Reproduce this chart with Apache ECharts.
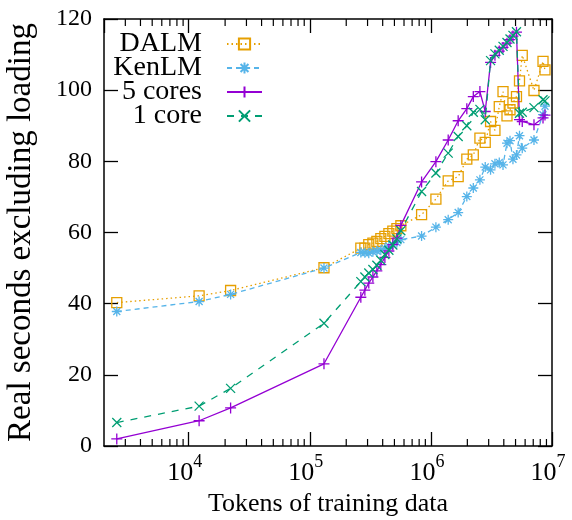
<!DOCTYPE html>
<html><head><meta charset="utf-8">
<script src="https://cdn.jsdelivr.net/npm/echarts@6/dist/echarts.min.js"></script>
<style>html,body{margin:0;padding:0;background:#fff}#c{width:572px;height:520px}</style>
</head><body><div id="c"></div>
<script>
const tokens = [2550, 12200, 22200, 131000, 264000, 285000, 307000, 332000, 358000, 386000, 417000, 450000, 485000, 524000, 565000, 838000, 1100000, 1390000, 1680000, 1980000, 2240000, 2540000, 2810000, 3110000, 3380000, 3670000, 3940000, 4250000, 4500000, 4760000, 5090000, 5390000, 5680000, 7100000, 8430000, 8750000];
const dalm = [40.3, 42.2, 43.7, 50.1, 55.6, 55.6, 56.6, 57.0, 57.5, 58.3, 58.9, 59.7, 60.4, 61.1, 61.9, 65.0, 69.4, 74.5, 75.7, 80.6, 81.8, 86.5, 85.3, 91.2, 88.7, 95.4, 99.6, 92.8, 94.5, 96.4, 98.2, 102.6, 109.8, 99.9, 108.1, 105.7];
const kenlm = [37.8, 40.6, 42.6, 50.0, 54.4, 54.3, 54.2, 54.6, 54.8, 55.0, 55.6, 56.2, 56.6, 57.2, 58.0, 59.0, 61.5, 63.6, 65.6, 70.1, 72.5, 74.8, 78.4, 77.6, 79.3, 79.7, 79.0, 85.1, 85.8, 80.6, 81.8, 87.2, 83.7, 86.0, 93.1, 95.5];
const cores5 = [2.0, 7.1, 10.7, 23.1, 41.8, 43.8, 45.8, 47.5, 49.2, 51.0, 53.0, 54.8, 56.6, 58.4, 62.0, 74.2, 79.9, 86.0, 91.4, 94.8, 98.2, 99.6, 94.0, 107.8, 109.8, 111.0, 112.0, 113.2, 114.2, 115.2, 116.3, 91.7, 91.2, 90.3, 92.2, 93.0];
const core1 = [6.6, 11.2, 16.2, 34.5, 46.2, 47.5, 48.6, 49.6, 50.8, 52.2, 53.8, 55.0, 56.5, 58.2, 60.5, 71.5, 76.7, 82.3, 87.0, 90.0, 93.8, 94.6, 91.7, 108.3, 110.2, 111.2, 112.3, 113.4, 114.4, 115.4, 116.4, 93.5, 93.8, 95.1, 97.3, 97.0];
const seriesNames = ['DALM', 'KenLM', '5 cores', '1 core'];
const yTicks = [0, 20, 40, 60, 80, 100, 120];
const minorTicks = [3e3,4e3,5e3,6e3,7e3,8e3,9e3, 2e4,3e4,4e4,5e4,6e4,7e4,8e4,9e4, 2e5,3e5,4e5,5e5,6e5,7e5,8e5,9e5, 2e6,3e6,4e6,5e6,6e6,7e6,8e6,9e6];

const FONT = 'Liberation Serif';
const colors = ['#E69F00', '#56B4E9', '#9400D3', '#009E73'];
const symbols = [
  'path://M0,0L10,0L10,10L0,10Z',
  'path://M5,0L5,10M0,5L10,5M1.5,1.5L8.5,8.5M1.5,8.5L8.5,1.5',
  'path://M5,0L5,10M0,5L10,5',
  'path://M0,0L10,10M0,10L10,0'
];
const symSizes = [10, 10, 11, 9];
const dashes = [[1.5, 3], [5, 4], 'solid', [7, 7]];
const values = [dalm, kenlm, cores5, core1];

const chart = echarts.init(document.getElementById('c'), null, {renderer: 'canvas'});
const xAxisBase = {
  type: 'log', logBase: 10, min: 2000, max: 1e7,
  axisLine: {show: true, onZero: false, lineStyle: {color: '#000', width: 1.5}},
  axisTick: {show: true, inside: true, length: 14, lineStyle: {color: '#000', width: 1.3}},
  splitLine: {show: false}
};
const yAxisBase = {
  type: 'value', min: yTicks[0], max: yTicks[yTicks.length - 1], interval: 20,
  axisLine: {show: true, lineStyle: {color: '#000', width: 1.5}},
  axisTick: {show: true, inside: true, length: 14, lineStyle: {color: '#000', width: 1.3}},
  splitLine: {show: false}
};

const lineSeries = seriesNames.map((name, i) => ({
  name: name, type: 'line', xAxisIndex: 0, yAxisIndex: 0,
  data: tokens.map((t, j) => [t, values[i][j]]),
  symbol: symbols[i], symbolSize: symSizes[i], showAllSymbol: true,
  itemStyle: {color: 'transparent', borderColor: colors[i], borderWidth: 1.3},
  lineStyle: {color: colors[i], width: 1.3, type: dashes[i]},
  emphasis: {disabled: true}, animation: false, z: 2 + i
}));

const tickSeries = {
  type: 'custom', xAxisIndex: 0, yAxisIndex: 0, silent: true, animation: false,
  data: minorTicks.map(v => [v]),
  encode: {x: 0},
  renderItem: function (params, api) {
    const v = api.value(0);
    const b = api.coord([v, yTicks[0]]);
    const t = api.coord([v, yTicks[yTicks.length - 1]]);
    return {type: 'group', children: [
      {type: 'line', shape: {x1: b[0], y1: b[1], x2: b[0], y2: b[1] - 7}, style: {stroke: '#000', lineWidth: 1.2}},
      {type: 'line', shape: {x1: t[0], y1: t[1], x2: t[0], y2: t[1] + 7}, style: {stroke: '#000', lineWidth: 1.2}}
    ]};
  }
};

chart.setOption({
  backgroundColor: '#fff',
  animation: false,
  grid: {left: 104, right: 20, top: 19, bottom: 74, containLabel: false, outerBoundsMode: 'none'},
  legend: {
    data: seriesNames, orient: 'vertical', align: 'right',
    right: 309, top: 30, padding: 0, itemGap: -4,
    itemWidth: 35, itemHeight: 14,
    textStyle: {fontFamily: FONT, fontSize: 28, color: '#000', padding: [0, 20, 0, 0]},
    selectedMode: false
  },
  xAxis: [
    Object.assign({}, xAxisBase, {
      position: 'bottom',
      name: 'Tokens of training data', nameLocation: 'middle', nameGap: 43,
      nameTextStyle: {fontFamily: FONT, fontSize: 26, color: '#000'},
      axisLabel: {
        show: true, margin: 7, color: '#000', showMinLabel: false,
        formatter: function (v) {
          const e = Math.log10(v);
          const r = Math.round(e);
          if (Math.abs(e - r) > 1e-6) return '';
          return '{m|10}{s|' + r + '}';
        },
        rich: {
          m: {fontFamily: FONT, fontSize: 26, color: '#000', lineHeight: 33, verticalAlign: 'bottom'},
          s: {fontFamily: FONT, fontSize: 18, color: '#000', lineHeight: 18, verticalAlign: 'top', padding: [0, 8, 0, 0]}
        }
      }
    }),
    Object.assign({}, xAxisBase, {position: 'top', axisLabel: {show: false}})
  ],
  yAxis: [
    Object.assign({}, yAxisBase, {
      position: 'left',
      name: 'Real seconds excluding loading', nameLocation: 'middle', nameGap: 66,
      nameTextStyle: {fontFamily: FONT, fontSize: 33, color: '#000'},
      axisLabel: {show: true, margin: 12, color: '#000', fontFamily: FONT, fontSize: 24}
    }),
    Object.assign({}, yAxisBase, {position: 'right', axisLabel: {show: false}})
  ],
  series: lineSeries.concat([tickSeries])
});
</script>
</body></html>
